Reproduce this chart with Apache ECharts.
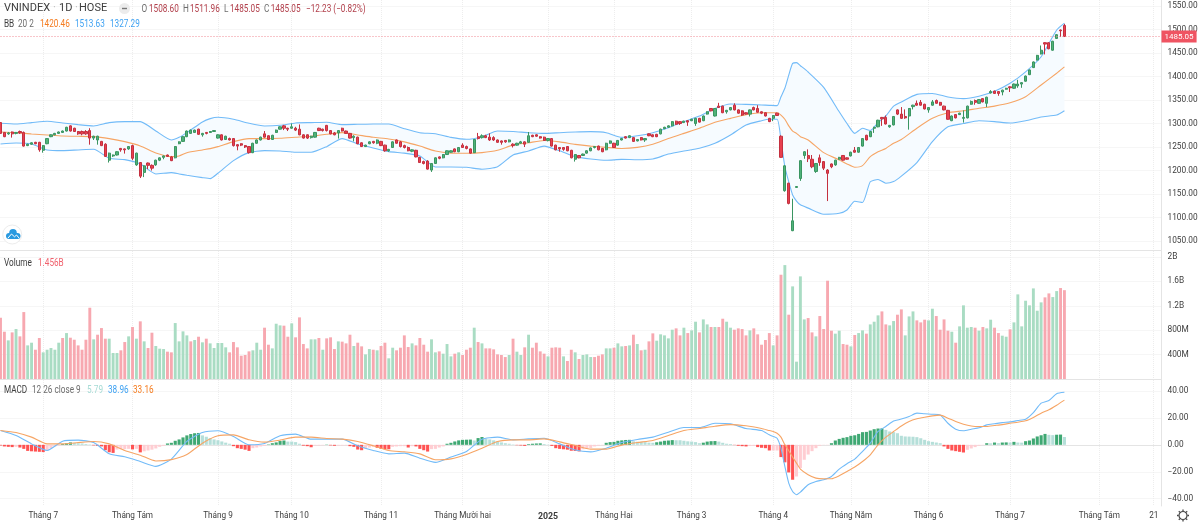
<!DOCTYPE html>
<html>
<head>
<meta charset="utf-8">
<title>VNINDEX</title>
<script src="https://cdn.jsdelivr.net/npm/echarts@6/dist/echarts.min.js"></script>
<style>
html, body { margin: 0; padding: 0; background: #fff; }
#container { width: 1200px; height: 522px; }
</style>
</head>
<body>
<div id="container"></div>
<script>
var opens = [
1302,1281,1278,1282,1279,1283,1281,1253,1256,1260,
1260,1243,1257,1272,1276,1279,1281,1284,1295,1290,
1283,1283,1283,1285,1269,1265,1262,1256,1222,1231,
1233,1247,1246,1246,1253,1212,1217,1196,1216,1211,
1212,1222,1228,1233,1229,1227,1257,1262,1272,1279,
1281,1288,1276,1281,1281,1283,1269,1276,1266,1268,
1268,1255,1257,1253,1251,1238,1258,1265,1278,1274,
1266,1281,1288,1295,1290,1290,1290,1288,1276,1276,
1270,1271,1290,1288,1296,1285,1280,1280,1290,1284,
1279,1270,1271,1259,1251,1257,1262,1258,1262,1254,
1242,1249,1265,1261,1253,1249,1241,1243,1228,1219,
1220,1201,1215,1229,1227,1234,1239,1246,1240,1254,
1251,1246,1238,1272,1270,1274,1271,1270,1265,1263,
1264,1261,1256,1254,1258,1261,1260,1275,1276,1272,
1271,1264,1268,1254,1249,1249,1251,1243,1224,1232,
1232,1237,1242,1249,1252,1247,1244,1258,1258,1254,
1265,1272,1270,1270,1263,1270,1265,1278,1276,1277,
1278,1289,1292,1295,1305,1304,1302,1306,1306,1300,
1311,1306,1320,1332,1316,1337,1337,1325,1329,1339,
1329,1327,1323,1320,1334,1332,1325,1323,1311,1311,
1322,1273,1157,1173,1072,1164,1183,1232,1232,1224,
1198,1227,1219,1201,1214,1212,1224,1232,1227,1231,
1243,1239,1252,1275,1272,1290,1293,1313,1313,1293,
1297,1329,1320,1315,1316,1336,1343,1345,1341,1329,
1339,1349,1345,1337,1328,1306,1319,1319,1311,1312,
1341,1349,1343,1353,1343,1365,1369,1368,1367,1373,
1378,1375,1380,1384,1390,1404,1419,1435,1448,1472,
1472,1456,1481,1499,1508.6];
var closes = [
1279,1272,1280,1278,1281,1280,1252,1256,1259,1257,
1244,1253,1268,1276,1279,1282,1284,1292,1284,1283,
1278,1278,1278,1269,1273,1273,1253,1230,1237,1233,
1240,1244,1244,1251,1226,1237,1188,1210,1211,1205,
1222,1227,1231,1230,1221,1251,1261,1272,1284,1286,
1286,1277,1279,1279,1283,1285,1276,1265,1273,1265,
1253,1252,1254,1250,1238,1258,1265,1271,1271,1266,
1275,1286,1293,1290,1288,1293,1286,1276,1269,1269,
1273,1281,1285,1285,1285,1278,1276,1285,1284,1279,
1269,1273,1257,1251,1254,1261,1259,1265,1253,1242,
1245,1261,1258,1251,1249,1242,1244,1229,1217,1215,
1203,1215,1227,1226,1234,1242,1242,1240,1249,1249,
1247,1237,1266,1268,1274,1270,1265,1265,1260,1260,
1261,1265,1253,1258,1261,1256,1274,1272,1273,1269,
1264,1268,1252,1244,1246,1245,1242,1227,1234,1227,
1235,1242,1248,1251,1244,1240,1258,1263,1249,1264,
1268,1269,1274,1262,1266,1265,1268,1274,1272,1272,
1288,1292,1295,1304,1298.5,1300,1305,1303,1309,1311,
1303,1316,1325,1327,1332,1334,1323,1328,1334,1329,
1322,1318,1320,1329,1329,1324,1322,1316,1304,1317,
1317,1228,1210,1130,1093,1166,1221,1240,1225,1208,
1215,1217,1205,1194,1208,1222,1228,1222,1224,1239,
1239,1249,1268,1265,1283,1292,1307,1310,1299,1296,
1315,1320,1311,1312,1332,1339,1339,1339,1331,1334,
1346,1343,1339,1329,1309,1316,1312,1322,1313,1337,
1347,1345,1351,1346,1356,1368,1364,1364,1371,1375,
1376,1384,1384,1387,1401,1414,1431,1445,1456,1469,
1459,1475,1489,1497.28,1485.05];
var lows = [
1278,1271,1276,1270,1277,1278,1251,1252,1255,1256,
1240,1238,1256,1271,1275,1278,1280,1283,1283,1282,
1276,1275,1276,1255,1265,1255,1252,1229,1217,1229,
1232,1240,1236,1244,1222,1210,1184,1186,1203,1200,
1210,1220,1224,1229,1220,1226,1256,1261,1271,1278,
1280,1276,1272,1277,1280,1282,1268,1264,1265,1264,
1251,1243,1252,1248,1236,1237,1257,1264,1270,1265,
1265,1280,1287,1286,1284,1289,1284,1275,1268,1267,
1268,1270,1284,1283,1283,1277,1275,1268,1283,1278,
1268,1262,1256,1250,1250,1256,1257,1256,1252,1240,
1240,1248,1257,1249,1247,1241,1239,1228,1216,1213,
1202,1197,1214,1224,1226,1233,1238,1239,1239,1248,
1245,1236,1237,1266,1268,1269,1263,1263,1259,1255,
1259,1260,1249,1253,1257,1250,1259,1271,1272,1268,
1263,1262,1251,1243,1240,1242,1241,1226,1219,1226,
1231,1236,1241,1247,1243,1239,1243,1257,1248,1253,
1264,1268,1269,1261,1262,1264,1261,1273,1271,1271,
1277,1288,1291,1294,1297,1297,1301,1295,1305,1295,
1302,1305,1319,1326,1315,1333,1322,1321,1328,1328,
1321,1316,1319,1315,1328,1323,1320,1315,1303,1305,
1316,1227,1155,1128,1071,1163,1178,1225,1218,1205,
1195,1210,1201,1135,1205,1210,1223,1221,1223,1230,
1238,1238,1251,1264,1271,1280,1292,1295,1298,1291,
1296,1318,1310,1310,1287,1330,1338,1338,1330,1323,
1338,1342,1338,1328,1308,1305,1311,1318,1302,1311,
1340,1340,1342,1345,1335,1364,1363,1359,1360,1372,
1367,1374,1376,1376,1389,1403,1418,1434,1447,1447,
1458,1455,1480,1484,1485.05];
var highs = [
1303,1282,1282,1283,1282,1285,1283,1257,1260,1261,
1261,1254,1269,1277,1280,1283,1285,1293,1296,1291,
1284,1285,1286,1290,1274,1274,1263,1258,1238,1234,
1241,1248,1247,1252,1255,1238,1218,1211,1217,1213,
1223,1228,1232,1234,1231,1252,1262,1273,1285,1287,
1287,1289,1280,1282,1284,1286,1277,1277,1274,1270,
1269,1256,1258,1254,1252,1259,1266,1272,1284,1275,
1276,1287,1294,1297,1291,1300,1293,1298,1277,1277,
1274,1282,1291,1289,1297,1286,1282,1286,1291,1285,
1280,1275,1272,1260,1255,1262,1263,1266,1263,1255,
1246,1262,1266,1263,1255,1251,1245,1244,1229,1221,
1222,1216,1228,1230,1235,1243,1243,1247,1250,1258,
1253,1247,1267,1280,1277,1276,1279,1273,1266,1264,
1265,1266,1258,1259,1263,1262,1282,1276,1277,1273,
1272,1269,1269,1255,1250,1250,1252,1244,1235,1233,
1236,1243,1249,1252,1253,1248,1259,1264,1259,1265,
1269,1273,1275,1271,1267,1271,1269,1279,1277,1278,
1289,1293,1296,1305,1306,1305,1306,1307,1310,1312,
1312,1317,1326,1333,1333,1344,1338,1329,1335,1343,
1330,1328,1324,1330,1336,1339,1326,1324,1312,1318,
1323,1275,1211,1174,1140,1167,1222,1241,1245,1233,
1216,1234,1220,1203,1215,1223,1229,1233,1228,1240,
1250,1250,1269,1276,1284,1293,1308,1314,1317,1297,
1316,1330,1335,1330,1333,1340,1349,1350,1342,1335,
1350,1351,1346,1338,1329,1317,1320,1323,1328,1338,
1349,1351,1352,1354,1357,1371,1370,1369,1372,1376,
1379,1385,1393,1388,1402,1415,1432,1446,1466,1473,
1473,1476,1490,1500,1511.96];

// volume in millions, r = down day, g = up day
var volumes = [
1005,775,633,764,819,699,1097,551,595,480,
672,437,480,508,480,595,672,753,677,644,
551,480,644,1168,650,726,835,661,661,426,
426,470,606,699,852,661,945,617,508,759,
541,497,491,448,437,917,617,781,715,617,
639,693,601,661,584,508,590,590,519,437,
606,519,382,393,453,470,595,480,841,562,
502,906,879,874,693,912,683,1010,573,502,
650,650,672,480,666,683,491,617,612,584,
726,541,595,535,404,491,480,470,541,595,
339,513,470,513,715,524,584,551,672,562,
448,650,437,453,415,573,371,415,437,393,
480,513,841,606,584,502,502,486,404,393,
360,393,661,448,393,519,726,513,595,453,
415,371,513,519,513,371,295,480,437,328,
393,404,360,360,382,404,502,502,513,584,
535,541,551,726,573,470,480,617,748,628,
732,715,666,808,830,715,841,753,797,939,
764,977,895,852,852,852,988,939,841,808,
830,819,715,797,830,732,562,639,753,551,
715,1709,1867,1054,1518,284,1682,977,999,764,
699,1032,819,1611,792,743,792,573,562,535,
721,753,797,743,895,939,1043,1108,895,879,
950,1054,1141,715,1026,1108,961,928,972,961,
1152,1032,808,977,792,775,595,863,1207,841,
852,841,792,852,830,972,841,753,710,693,
814,928,1387,863,1283,1207,1485,1119,1256,1338,
1403,1343,1441,1491,1456];
var volumeDirs =
  'rrgrgrrggr' + 'rgggggrgrr' + 'rrrrgrrrgg' + 'grrgrgrgrr' + 'gggrrggggr' +
  'grgrgggggr' + 'rrrrrgggrr' + 'gggrrgrrrr' + 'ggrgrrrgrr' + 'rgrrggrgrr' +
  'ggrr' + 'rrgrrrrggr' + 'gggrgrrrgr' + 'grrrrrrgrg' + 'grgrrr' +
  'rgrrrgrrgr' + 'gggrrrggrg' + 'grgrgrgrrg' + 'ggggrrgrgg' + 'rggrgrrggr' + 'rrrgrrrrrg' +
  'rrgrggg' + 'grrgrrrrgg' + 'rrgrggrggg' + 'rrggrrgggr' + 'rrggrrrrgr' + 'ggggrgrggr' + 'rggrgggggg' + 'ggrrggrr';

var bbBars = [0,4,8,12,16,20,24,28,32,36,40,44,46,48,52,54,56,60,64,68,72,76,80,84,88,92,96,100,
104,108,112,116,120,124,128,132,136,140,144,148,152,156,160,164,168,172,176,180,184,188,192,196,198,200,
201,202,203,204,205,206,208,212,216,218,220,222,224,226,228,230,232,236,240,244,248,252,256,260,264,268,272,274];
var bbUpper = [1300.5,1299,1301.9,1304.7,1301.2,1297.6,1294.8,1301.9,1304,1304,1284.2,1265,1270.7,1280.6,1303.3,1310.4,1313.2,1309,1300.5,1294.8,1296.2,1301.2,1301.9,1302.6,1297.6,1298.3,1299,1299,
1289,1280.5,1278.4,1270.6,1266.4,1272,1284,1283,1280.5,1279,1280.5,1282,1282.7,1280.5,1270.6,1274,1280.5,1291,1304,1316,1332,1341.5,1340.8,1339.4,1338.7,1338,
1357,1375,1403,1428,1429.5,1423,1409.6,1377,1325,1300,1279,1290,1285,1302,1316,1337,1346,1362,1364,1356.5,1353,1358,1368.5,1385.5,1410,1442,1499,1513.63];
var bbMiddle = [1282,1280.6,1277.8,1275.7,1273.5,1272.8,1272.1,1267.9,1261.5,1252.3,1237.4,1229.6,1231,1238,1243.8,1246.6,1250.8,1261.5,1267.9,1267.9,1268.6,1270.7,1272.8,1277.1,1280.6,1275.7,1270.7,1267.1,
1261,1252,1241.5,1237,1236.6,1238,1243,1254,1259,1264,1261,1255.7,1252,1249.3,1247,1249.3,1255.7,1268,1279,1289.8,1302.5,1311,1318.8,1323,1323,1323,
1318,1309,1295,1284,1279,1272,1265,1238,1222.5,1214,1207,1210.4,1229.6,1240,1247,1258,1266,1290,1311,1323,1327,1332.4,1337,1344,1357,1382,1407,1420.46];
var bbLower = [1256.5,1258.6,1256.5,1243.8,1242.3,1243.8,1245.2,1226,1223.2,1214,1192.7,1195.5,1192.7,1189.9,1184.9,1182.8,1194.1,1221,1238.1,1242.3,1241.6,1238.8,1238.8,1250.8,1267.9,1256.5,1248,1240.2,
1237,1231,1207.5,1207.5,1206.8,1202.6,1208,1233,1241.5,1252,1242,1229.5,1224.5,1221.7,1223.8,1223,1224.5,1235,1241.5,1247.2,1258,1275.6,1297,1306,1309,1309,
1265,1208,1176,1148,1135,1127,1120,1107,1109,1116,1134.5,1132,1176,1181,1173,1176.4,1188,1217,1261.5,1293,1300,1306,1304,1301,1306,1314,1318,1327.29];

var macdBars = [0,4,8,12,16,20,24,28,32,36,40,44,48,52,56,60,64,68,72,76,80,84,88,92,96,100,
104,108,112,116,120,124,128,132,136,140,144,148,152,156,160,164,168,172,176,180,184,188,192,196,
198,199,200,201,202,203,204,205,206,
208,210,212,214,216,218,220,222,224,226,228,230,232,234,236,238,240,242,244,246,248,250,252,254,256,258,260,262,264,266,268,270,272,274];
var macdLine = [10.6,6.9,.7,-4.2,2.7,3.5,1.7,-6.7,-8.9,-12.4,-16,-10.6,2.5,9.1,10.4,6.2,0,1,6.7,7.9,4.2,4.2,4.2,-.7,-4.2,-6.7,
-6.2,-9.9,-13,-9.1,-4.9,4.2,5.7,3.7,4.4,4.9,.7,-3.9,-5.2,-2.5,1.7,4,5.7,9.4,12.8,12.8,16,15.6,12.1,10.6,
7.4,6.2,4.9,-2.5,-16,-28.4,-34.6,-37,-35.1,
-29.6,-27.2,-25.9,-23.5,-18,-14,-10.6,-4.9,1.2,9.9,13.6,17.6,19.1,21,23.5,23,22.7,22.2,16,11.6,10.4,11.6,12.6,14.8,15.6,16.5,17,18,19,23.9,30.9,32.9,37.9,38.96];
var signalLine = [10.6,9.1,5.7,.7,.7,1.7,2.5,.7,-4.2,-7.7,-12,-11,-7.2,1.2,6.7,7.4,3.7,2,3.5,5.7,5.7,4.7,4.2,2.5,-.7,-4.2,
-5.2,-6.7,-11.1,-10.4,-7.2,-2.5,2.5,3.7,3.7,4.4,2.2,-.5,-3.2,-3.2,-.2,1.7,3.2,6.9,10.6,12.1,13.8,15,14.1,12.1,
10.6,9.9,8.6,5.7,0,-4.4,-9.1,-13.6,-18,
-22.2,-24.7,-25.2,-25.2,-23,-19.8,-16.5,-12.4,-7.4,0,5.7,9.9,14,17.3,19.3,20.5,21.5,22,19.8,17.3,15.3,14,13.6,13.6,14.3,15,16,16.8,17.8,20.3,23.5,26,29.4,33.16];
var histogram = [
-.5,-1.2,-1.5,-1.7,-1.5,-2,-3,-4.5,-4.8,-5,
-5.2,-5.4,-4,-2.5,-1.2,-.5,.6,1.2,1.8,1.4,
1.2,1,.6,.3,-.4,-.7,-1.2,-4,-5.5,-6,
-3.5,-3.3,-3.2,-3,-3.4,-3,-5.6,-4.8,-4.2,-3.6,
-2.7,-1.5,-.7,1,1.5,3,4,5.5,7,8,
8.6,8.8,7,6,5,4,3.4,2.5,1.6,.8,
-1,-2.5,-3,-3.6,-4.5,-2.5,-2,-1.2,-.8,.3,
1.2,1.8,2.8,3.2,2.4,2.4,2,.8,-.6,-1,
-1.8,-.6,-.5,-.3,.2,-.4,-.7,-.6,-.5,-.4,
-1,-1.5,-3.5,-4,-2.8,-2,-1.5,-2.2,-3,-3.2,
-3.3,-1.5,-1.2,-1,-1,-2,-1,-1.2,-3,-4,
-5,-3.2,-3,-2,-1.2,.8,1.5,2.5,3.3,3.7,
3.8,3.9,3.2,5,5.8,4.5,4,3.3,2.6,1.8,
1.2,.8,.3,-.3,-.5,-.8,.5,.8,1,1.1,
.6,.2,-.8,-2.5,-3,-3.3,-3.6,-4.4,-4.6,-4.9,
-3.3,-3,-2.4,-1.2,-.6,-.3,1.5,2,2.2,3,
3.3,3.6,3.7,2.6,2.3,2.2,2,1.6,1.5,1.9,
2.4,3,3.2,3.5,3.4,3.4,3,2.6,2.4,2,
1.2,1.6,2.4,2.7,2.8,2.4,1.5,.8,.6,-.2,
-.7,-1,-1.2,-.9,-.8,-1.7,-2.2,-2.5,-4.2,-4.2,
-4.2,-9.1,-13,-20.5,-25.9,-23.5,-17.3,-11.1,-7.2,-4.7,
-2.5,-.7,-.2,-.2,1.2,3.2,4.4,5.2,5.7,6.7,
7.1,8.1,9.4,9.6,10.6,11.6,12.1,12.2,11.1,9.9,
9.4,8.6,6.7,6.2,6.1,6,5.7,4.9,3.7,2.7,
2.2,1.7,1.2,-1.2,-3,-4.2,-4.7,-5.2,-5.7,-3.7,
-2.7,-1.7,-.7,-.2,1.2,1.1,1.7,1.2,1.7,1.8,
1.7,2.2,1.7,1.6,2.7,3.2,4.7,6.2,7.1,8.1,
7.4,7.2,7.5,7.6,5.79];

var barCount = 300;
var timeTicks = [11,34,56,75,98,119,141,158,178,199,219,239,260,283,297];
var timeLabels = ['Tháng 7','Tháng Tám','Tháng 9','Tháng 10','Tháng 11','Tháng Mười hai','2025','Tháng Hai','Tháng 3','Tháng 4','Tháng Năm','Tháng 6','Tháng 7','Tháng Tám','21'];
var priceTicks = [1050,1100,1150,1200,1250,1300,1350,1400,1450,1500,1550];
var volumeTicks = [400,800,1200,1600,2000];
var macdTicks = [-40,-20,0,20,40];

var lastPrice = closes[closes.length - 1];

var categories = [];
for (var i = 0; i < barCount; i++) categories.push('');
timeTicks.forEach(function (t, k) { categories[t] = timeLabels[k]; });

function pairs(bars, values) {
    return values.map(function (v, k) { return [bars[k], v]; });
}

var candles = opens.map(function (o, k) { return [o, closes[k], lows[k], highs[k]]; });
var bandWidths = bbUpper.map(function (u, k) { return u - bbLower[k]; });

var gridColor = '#ededed';
var textColor = '#3d3d3d';
var font = 'Roboto';
var blue = '#72bbf8';
var orange = '#f6a565';

function isTimeTick(index, value) { return value !== ''; }

function xAxisFor(gridIndex, showLabels) {
    return {
        type: 'category',
        gridIndex: gridIndex,
        data: categories,
        boundaryGap: false,
        min: 0,
        max: barCount - 1,
        axisTick: { show: false },
        axisLine: { show: true, lineStyle: { color: '#e4e4e4', width: 1 } },
        axisLabel: {
            show: showLabels,
            interval: isTimeTick,
            color: textColor,
            fontFamily: font,
            fontSize: 8.2,
            margin: 6,
            formatter: function (v) { return v === '2025' ? '{y|2025}' : v; },
            rich: { y: { fontWeight: 'bold', fontSize: 8.8, fontFamily: font, color: textColor } }
        },
        splitLine: { show: true, interval: isTimeTick, lineStyle: { color: gridColor, type: 'dotted', width: 1 } }
    };
}

function yAxisFor(gridIndex, min, max, ticks, fmt) {
    return {
        type: 'value',
        gridIndex: gridIndex,
        position: 'right',
        min: min,
        max: max,
        scale: true,
        axisLine: { show: true, lineStyle: { color: '#e4e4e4', width: 1 } },
        axisTick: { show: false, customValues: ticks },
        axisLabel: {
            color: textColor,
            fontFamily: font,
            fontSize: 8.3,
            margin: 6,
            padding: [4, 0, 0, 0],
            customValues: ticks,
            formatter: fmt
        },
        splitLine: { show: true, customValues: ticks, lineStyle: { color: gridColor, type: 'dotted', width: 1 } }
    };
}

// scale squeezes the text to the narrower look of the original
function txt(text, x, y, color, size, scale) {
    return {
        type: 'text', x: x, y: y, z: 50, silent: true, scaleX: scale || 0.82,
        style: { text: text, fill: color, fontFamily: font, fontSize: size, textVerticalAlign: 'middle' }
    };
}

var gearTeeth = [];
[[0,-6,0,-4.4],[4.2,-4.2,3.1,-3.1],[6,0,4.4,0],[4.2,4.2,3.1,3.1],[0,6,0,4.4],[-4.2,4.2,-3.1,3.1],[-6,0,-4.4,0],[-4.2,-4.2,-3.1,-3.1]].forEach(function (s) {
    gearTeeth.push({ type: 'line', x: 1183, y: 515.5, shape: { x1: s[0], y1: s[1], x2: s[2], y2: s[3] }, style: { stroke: '#444', lineWidth: 1.3 }, silent: true, z: 50 });
});

var downText = '#b2404c';
var greyText = '#6d6d6d';

var graphics = [
    txt('VNINDEX', 4, 8, '#3d3d3d', 11, 1), txt('1D', 59, 8, '#3d3d3d', 11, 1), txt('HOSE', 79, 8, '#3d3d3d', 11, 1),
    txt('·', 53, 8, '#bbbbbb', 11, 1), txt('·', 75, 8, '#bbbbbb', 11, 1),
    { type: 'circle', x: 124.5, y: 8.5, shape: { r: 5.5 }, style: { fill: '#ececec' }, silent: true, z: 49 },
    { type: 'rect', x: 122, y: 7.8, shape: { width: 5, height: 1.4 }, style: { fill: '#777' }, silent: true, z: 50 },
    txt('O', 141.5, 9, greyText, 10), txt('1508.60', 149, 9, downText, 10),
    txt('H', 183, 9, greyText, 10), txt('1511.96', 190, 9, downText, 10),
    txt('L', 224, 9, greyText, 10), txt('1485.05', 230, 9, downText, 10),
    txt('C', 264, 9, greyText, 10), txt('1485.05', 270.7, 9, downText, 10),
    txt('−12.23 (−0.82%)', 306, 9, downText, 10),
    txt('BB', 4, 24, '#3d3d3d', 10), txt('20 2', 18, 24, greyText, 10),
    txt('1420.46', 40, 24, '#f57c1f', 10), txt('1513.63', 75, 24, '#3fa2f2', 10), txt('1327.29', 110, 24, '#3fa2f2', 10),
    txt('Volume', 4, 263, '#3d3d3d', 10), txt('1.456B', 38, 263, '#f0616d', 10),
    txt('MACD', 4, 390, '#3d3d3d', 10), txt('12 26 close 9', 32, 390, greyText, 10),
    txt('5.79', 87, 390, '#a6dbd5', 10), txt('38.96', 108, 390, '#3fa2f2', 10), txt('33.16', 133, 390, '#f57c1f', 10),
    { type: 'circle', x: 12.2, y: 234.5, shape: { r: 9.5 }, style: { fill: '#fff', stroke: '#ececec', lineWidth: 1 }, silent: true, z: 49 },
    { type: 'rect', x: 6, y: 233, shape: { width: 14.5, height: 6, r: 3 }, style: { fill: '#2a9ae0' }, silent: true, z: 50 },
    { type: 'circle', x: 13, y: 232.8, shape: { r: 3.8 }, style: { fill: '#2a9ae0' }, silent: true, z: 50 },
    { type: 'polyline', x: 0, y: 0, shape: { points: [[8, 238], [11.5, 234], [14.5, 236.8], [16.5, 235], [19, 238]] }, style: { stroke: '#fff', fill: null, lineWidth: 1 }, silent: true, z: 51 },
    { type: 'circle', x: 1183, y: 515.5, shape: { r: 4 }, style: { stroke: '#444', fill: null, lineWidth: 1.2 }, silent: true, z: 50 }
].concat(gearTeeth);

var option = {
    animation: false,
    backgroundColor: '#fff',
    graphic: graphics,
    grid: [
        { left: 0.5, width: 1161, top: 0, height: 250, outerBoundsMode: 'none' },
        { left: 0.5, width: 1161, top: 251, height: 128, outerBoundsMode: 'none' },
        { left: 0.5, width: 1161, top: 380, height: 126, outerBoundsMode: 'none' }
    ],
    xAxis: [xAxisFor(0, false), xAxisFor(1, false), xAxisFor(2, true)],
    yAxis: [
        yAxisFor(0, 1030.9, 1562.8, priceTicks, function (v) { return v.toFixed(2); }),
        yAxisFor(1, 0, 2098, volumeTicks, function (v) { return v >= 2000 ? '2B' : v >= 1000 ? (v / 1000).toFixed(1) + 'B' : v + 'M'; }),
        yAxisFor(2, -45.4, 48.1, macdTicks, function (v) { return (v < 0 ? '−' : '') + Math.abs(v).toFixed(2); })
    ],
    series: [
        { type: 'line', name: 'band base', xAxisIndex: 0, yAxisIndex: 0, stack: 'bb', data: pairs(bbBars, bbLower), smooth: 0.2, symbol: 'none', lineStyle: { width: 0 }, silent: true, z: 1 },
        { type: 'line', name: 'band', xAxisIndex: 0, yAxisIndex: 0, stack: 'bb', data: pairs(bbBars, bandWidths), smooth: 0.2, symbol: 'none', lineStyle: { width: 0 }, areaStyle: { color: '#f6fbff', opacity: 1 }, silent: true, z: 1 },
        { type: 'line', name: 'BB upper', xAxisIndex: 0, yAxisIndex: 0, data: pairs(bbBars, bbUpper), smooth: 0.2, symbol: 'none', lineStyle: { color: blue, width: 1.1 }, z: 2 },
        { type: 'line', name: 'BB lower', xAxisIndex: 0, yAxisIndex: 0, data: pairs(bbBars, bbLower), smooth: 0.2, symbol: 'none', lineStyle: { color: blue, width: 1.1 }, z: 2 },
        { type: 'line', name: 'BB basis', xAxisIndex: 0, yAxisIndex: 0, data: pairs(bbBars, bbMiddle), smooth: 0.2, symbol: 'none', lineStyle: { color: orange, width: 1.1 }, z: 2 },
        {
            type: 'candlestick', name: 'VNINDEX', xAxisIndex: 0, yAxisIndex: 0, data: candles, barWidth: 2.7, clip: false, z: 3,
            itemStyle: { color: '#50b27a', color0: '#e8404f', borderColor: '#3a9561', borderColor0: '#c4303f', borderWidth: 1 },
            markLine: {
                silent: true, symbol: 'none', animation: false,
                lineStyle: { color: '#f08a94', type: [1, 2], width: 1 },
                label: { position: 'end', formatter: lastPrice.toFixed(2), color: '#fff', backgroundColor: '#ef5462', fontFamily: font, fontSize: 8, padding: [2, 3, 2, 3], distance: 0 },
                data: [{ yAxis: lastPrice }]
            }
        },
        {
            type: 'bar', name: 'Volume', xAxisIndex: 1, yAxisIndex: 1, data: volumes, barWidth: 2.9, clip: false,
            itemStyle: { color: function (p) { return volumeDirs.charAt(p.dataIndex) === 'g' ? '#a9dcc3' : '#f7a8b0'; } }
        },
        {
            type: 'bar', name: 'Histogram', xAxisIndex: 2, yAxisIndex: 2, data: histogram, barWidth: 3.1, clip: false,
            itemStyle: {
                color: function (p) {
                    var v = p.value, prev = p.dataIndex > 0 ? histogram[p.dataIndex - 1] : 0;
                    if (v >= 0) return v > prev ? '#3fa873' : '#b5dfd9';
                    return v < prev ? '#ff5252' : '#ffcdd2';
                }
            }
        },
        { type: 'line', name: 'MACD', xAxisIndex: 2, yAxisIndex: 2, data: pairs(macdBars, macdLine), smooth: 0.2, symbol: 'none', lineStyle: { color: blue, width: 1.1 }, z: 3 },
        { type: 'line', name: 'Signal', xAxisIndex: 2, yAxisIndex: 2, data: pairs(macdBars, signalLine), smooth: 0.2, symbol: 'none', lineStyle: { color: orange, width: 1.1 }, z: 3 }
    ]
};

var myChart = echarts.init(document.getElementById('container'));
myChart.setOption(option);
</script>
</body>
</html>
